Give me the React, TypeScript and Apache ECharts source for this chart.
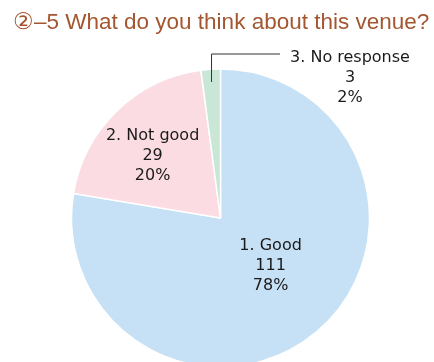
import React, { useEffect, useRef } from "react";
import * as echarts from "echarts";

const titleText = "②–5 What do you think about this venue?";
const categories = ["1. Good", "2. Not good", "3. No response"];
const counts = [111, 29, 3];
const percents = ["78%", "20%", "2%"];
const colors = ["#c6e1f5", "#fbdce2", "#c9e6d6"];

const CX = 220.5;
const CY = 218;
const R = 149;

export default function App() {
  const ref = useRef<HTMLDivElement>(null);
  useEffect(() => {
    if (!ref.current) return;
    const chart = echarts.init(ref.current, null, { renderer: "svg" });
    const total = counts.reduce((a, b) => a + b, 0);
    const midFrac = (counts[0] + counts[1] + counts[2] / 2) / total;
    const theta = midFrac * Math.PI * 2;
    const rIn = R * 0.915;
    const sx = CX + Math.sin(theta) * rIn;
    const sy = CY - Math.cos(theta) * rIn;
    const bendY = CY - (R + 15);
    const lx = 350;
    const ly = 76;
    const data = categories.map((name, i) => ({
      name,
      value: counts[i],
      itemStyle: { color: colors[i] },
      label:
        i === 2
          ? { position: "outside" as const }
          : { position: "inside" as const },
      labelLine: { show: false },
    }));
    chart.setOption({
      animation: false,
      title: {
        text: titleText,
        left: 8,
        top: 5,
        textStyle: {
          color: "#a3562f",
          fontSize: 22.5,
          fontWeight: "normal",
          fontFamily: "Liberation Sans, Arial, sans-serif",
        },
      },
      graphic: [
        {
          type: "polyline",
          z: 100,
          silent: true,
          shape: {
            points: [
              [sx, sy],
              [sx, bendY],
              [lx - 70, bendY],
            ],
          },
          style: { stroke: "#333333", lineWidth: 1, fill: "none" },
        },
      ],
      series: [
        {
          type: "pie",
          center: [CX, CY],
          radius: R,
          startAngle: 90,
          clockwise: true,
          data,
          itemStyle: { borderColor: "#ffffff", borderWidth: 1.5 },
          label: {
            formatter: (p: any) =>
              `${p.name}\n${counts[p.dataIndex]}\n${percents[p.dataIndex]}`,
            color: "#1a1a1a",
            fontSize: 16,
            lineHeight: 20,
            align: "center",
            fontFamily: "DejaVu Sans, sans-serif",
          },
          labelLayout: (p: any) => {
            if (p.dataIndex === 0) return { dy: -13 };
            if (p.dataIndex === 1) return { dx: -14, dy: -8 };
            return {
              x: lx,
              y: ly,
              align: "center",
              verticalAlign: "middle",
            };
          },
        },
      ],
    });
    return () => chart.dispose();
  }, []);
  return (
    <div
      ref={ref}
      style={{ position: "fixed", left: 0, top: 0, width: 434, height: 362 }}
    />
  );
}
